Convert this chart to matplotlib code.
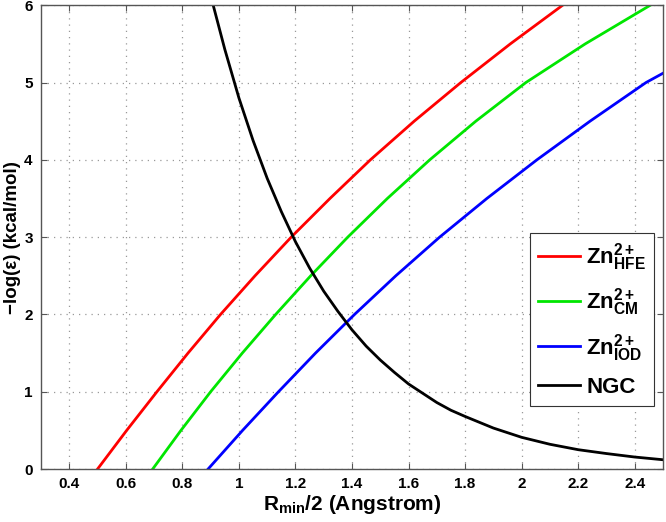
import numpy as np
import matplotlib
matplotlib.use("Agg")
import matplotlib.pyplot as plt

plt.rcParams['font.family'] = ['Liberation Sans', 'DejaVu Sans']
plt.rcParams['font.weight'] = 'bold'
plt.rcParams['mathtext.fontset'] = 'custom'
plt.rcParams['mathtext.rm'] = 'Liberation Sans:bold'
plt.rcParams['mathtext.bf'] = 'Liberation Sans:bold'
plt.rcParams['mathtext.it'] = 'Liberation Sans:bold'

# curves (R_min/2, -log(eps))
hfe_x = [0.50, 0.603, 0.71, 0.82, 0.935, 1.057, 1.185, 1.322, 1.465, 1.62, 1.785, 1.96, 2.145]
hfe_y = [0.0, 0.5, 1.0, 1.5, 2.0, 2.5, 3.0, 3.5, 4.0, 4.5, 5.0, 5.5, 6.0]

cm_x = [0.695, 0.795, 0.90, 1.012, 1.13, 1.254, 1.385, 1.525, 1.675, 1.838, 2.015, 2.225, 2.455]
cm_y = [0.0, 0.5, 1.0, 1.5, 2.0, 2.5, 3.0, 3.5, 4.0, 4.5, 5.0, 5.5, 6.0]

iod_x = [0.891, 1.013, 1.14, 1.271, 1.409, 1.555, 1.71, 1.877, 2.054, 2.242, 2.44, 2.5]
iod_y = [0.0, 0.5, 1.0, 1.5, 2.0, 2.5, 3.0, 3.5, 4.0, 4.5, 5.0, 5.12]

ngc_x = [0.909, 0.95, 1.0, 1.05, 1.1, 1.15, 1.2, 1.25, 1.3, 1.35, 1.4, 1.45, 1.5,
         1.55, 1.6, 1.65, 1.7, 1.75, 1.8, 1.9, 2.0, 2.1, 2.2, 2.3, 2.4, 2.5]
ngc_y = [6.0, 5.43, 4.80, 4.25, 3.76, 3.33, 2.94, 2.60, 2.30, 2.04, 1.80, 1.59, 1.41,
         1.25, 1.10, 0.98, 0.86, 0.76, 0.68, 0.53, 0.41, 0.32, 0.25, 0.20, 0.155, 0.12]

xticks = [0.4, 0.6, 0.8, 1.0, 1.2, 1.4, 1.6, 1.8, 2.0, 2.2, 2.4]
xticklabels = ['0.4', '0.6', '0.8', '1', '1.2', '1.4', '1.6', '1.8', '2', '2.2', '2.4']
yticks = [0, 1, 2, 3, 4, 5, 6]

fig = plt.figure(figsize=(6.66, 5.22), dpi=100)
ax = fig.add_axes([0.0616, 0.1015, 0.9339, 0.8885])

ax.plot(hfe_x, hfe_y, color='#ff0000', lw=2.0, label=r'Zn$^{2+}_{\mathrm{HFE}}$')
ax.plot(cm_x, cm_y, color='#00e600', lw=2.0, label=r'Zn$^{2+}_{\mathrm{CM}}$')
ax.plot(iod_x, iod_y, color='#0000ff', lw=2.0, label=r'Zn$^{2+}_{\mathrm{IOD}}$')
ax.plot(ngc_x, ngc_y, color='black', lw=2.0, label='NGC')

ax.set_xlim(0.3, 2.5)
ax.set_ylim(0, 6)
ax.set_xticks(xticks)
ax.set_xticklabels(xticklabels)
ax.set_yticks(yticks)
ax.tick_params(direction='in', top=True, right=True, labelsize=11, length=4,
               color='#555555', pad=6)
for lab in ax.get_xticklabels() + ax.get_yticklabels():
    lab.set_fontweight('bold')
for sp in ax.spines.values():
    sp.set_color('#555555')
    sp.set_linewidth(1.0)

ax.grid(True, linestyle=(0, (1, 4)), color='#999999', linewidth=0.9)

ax.set_xlabel(r'R$_{\mathrm{min}}$/2 (Angstrom)', fontsize=15, fontweight='bold', labelpad=1)
ax.set_ylabel('\u2212log(\u03b5) (kcal/mol)', fontsize=13.5, fontweight='bold', labelpad=2)

leg = ax.legend(loc='upper right', bbox_to_anchor=(0.985, 0.508), borderaxespad=0,
                prop={'weight': 'bold', 'size': 16}, fancybox=False,
                framealpha=1, edgecolor='#333333', handlelength=1.9,
                handletextpad=0.25, labelspacing=0.6, borderpad=0.35)
leg.get_frame().set_linewidth(0.8)

fig.savefig('out.png', dpi=100)
